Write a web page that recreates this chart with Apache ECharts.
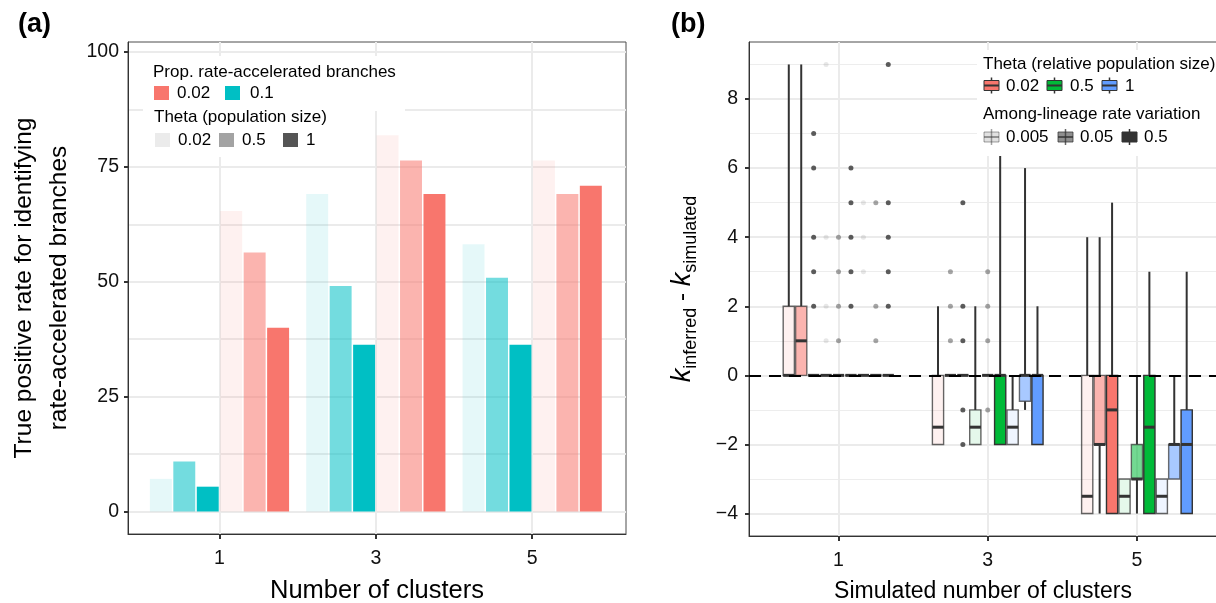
<!DOCTYPE html>
<html>
<head>
<meta charset="utf-8">
<title>Rate-accelerated branches and clusters</title>
<script src="https://cdn.jsdelivr.net/npm/echarts@6/dist/echarts.min.js"></script>
<style>
  html, body { margin: 0; padding: 0; background: #fff; }
  #chart { width: 1216px; height: 603px; }
</style>
</head>
<body>
<div id="chart"></div>
<script>
// ---- data, panel (a): true positive rate (%) per cluster, theta order 0.02 / 0.5 / 1
const clusters = [1, 3, 5]
const tprProp01 = [[7.1, 10.9, 5.4], [69.1, 49.1, 36.3], [58.2, 50.9, 36.3]]
const tprProp002 = [[65.4, 56.4, 40.0], [81.9, 76.4, 69.1], [76.4, 69.1, 70.9]]
const ticksA = [0, 25, 50, 75, 100]
const gridA = [0, 12.5, 25, 37.5, 50, 62.5, 75, 87.5, 100]

// ---- data, panel (b): [min, q1, median, q3, max] for the 9 boxes of each cluster
// order: theta 0.02 (rate 0.005, 0.05, 0.5), theta 0.5 (...), theta 1 (...)
const boxK1 = [[0, 0, 0, 2, 9], [0, 0, 1, 2, 9], [0, 0, 0, 0, 0], [0, 0, 0, 0, 0], [0, 0, 0, 0, 0],
  [0, 0, 0, 0, 0], [0, 0, 0, 0, 0], [0, 0, 0, 0, 0], [0, 0, 0, 0, 0]]
const boxK3 = [[-2, -2, -1.5, 0, 2], [0, 0, 0, 0, 0], [0, 0, 0, 0, 0], [-2, -2, -1.5, -1, 2], [0, 0, 0, 0, 0],
  [-2, -2, 0, 0, 7], [-2, -2, -1.5, -1, 0], [-1, -0.75, 0, 0, 6], [-2, -2, 0, 0, 2]]
const boxK5 = [[-4, -4, -3.5, 0, 4], [-4, -2, -2, 0, 4], [-4, -4, -1, 0, 5], [-4, -4, -3.5, -3, -3], [-4, -3, -3, -2, 0],
  [-4, -4, -1.5, 0, 3], [-4, -4, -3.5, -3, -3], [-3, -3, -2, -2, 0], [-4, -4, -2, -1, 3]]
const outK1 = [[], [], [7, 6, 4, 3, 2], [9, 4, 2, 1], [4, 3, 2, 1], [6, 5, 4, 3, 2], [5, 4, 3], [5, 2, 1], [9, 5, 4, 3, 2]]
const outK3 = [[], [3, 2, 1], [5, 2, 1, -1, -2], [], [3, 2, 1, -1], [], [], [], []]
const outK5 = [[], [], [], [], [], [], [], [], []]
const ticksB = [-4, -2, 0, 2, 4, 6, 8]
const minorB = [-3, -1, 1, 3, 5, 7, 9]

const FONT = 'Liberation Sans, Arial, Helvetica, sans-serif'
const propColors = ['#00BFC4', '#F8766D']      // 0.1 (left), 0.02 (right)
const thetaAlpha = [0.1, 0.55, 1]
const thetaColors = ['#F8766D', '#00BA38', '#619CFF']
const rateAlpha = [0.1, 0.55, 1]
const dotAlpha = [0.15, 0.55, 1]
const boxStroke = ['rgba(51,51,51,0.75)', 'rgba(51,51,51,0.7)', '#333']

function rgba(hex, a) {
  const n = parseInt(hex.slice(1), 16)
  return 'rgba(' + (n >> 16) + ',' + ((n >> 8) & 255) + ',' + (n & 255) + ',' + a + ')'
}
function minus(v) { return v < 0 ? '\u2212' + (-v) : String(v) }

// bars: [cluster, slot, value, propIdx, thetaIdx]
const barData = []
clusters.forEach((c, ci) => {
  [tprProp01, tprProp002].forEach((arr, pi) => {
    arr[ci].forEach((v, ti) => barData.push([c, pi * 3 + ti, v, pi, ti]))
  })
})

// boxes: [cluster, slot, min, q1, med, q3, max]
const boxData = []
const boxStats = [boxK1, boxK3, boxK5]
clusters.forEach((c, ci) => boxStats[ci].forEach((s, k) => boxData.push([c, k].concat(s))))

const slotX = (c, k) => c - 0.75 + (k + 0.5) / 6
const outData = []
const outLists = [outK1, outK3, outK5]
clusters.forEach((c, ci) => outLists[ci].forEach((list, k) => list.forEach(v => {
  outData.push({ value: [slotX(c, k), v], itemStyle: { color: rgba('#333333', dotAlpha[k % 3]) } })
})))

function renderBar(params, api) {
  const c = api.value(0), slot = api.value(1), v = api.value(2)
  const left = c - 0.9 + 0.3 * slot
  const p0 = api.coord([left, v])
  const p1 = api.coord([left + 0.3, 0])
  const pi = api.value(3), ti = api.value(4)
  return {
    type: 'rect',
    shape: { x: p0[0] + 0.75, y: p0[1], width: p1[0] - p0[0] - 1.5, height: p1[1] - p0[1] },
    style: { fill: rgba(propColors[pi], thetaAlpha[ti]) }
  }
}

function renderBox(params, api) {
  const c = api.value(0), k = api.value(1)
  const xc = slotX(c, k)
  const half = api.size([1 / 6, 0])[0] * 0.45
  const px = api.coord([xc, 0])[0]
  const y = i => api.coord([xc, api.value(i)])[1]
  const yMin = y(2), yQ1 = y(3), yMed = y(4), yQ3 = y(5), yMax = y(6)
  const theta = Math.floor(k / 3), rate = k % 3
  const ws = { stroke: '#333', lineWidth: 2 }
  return {
    type: 'group',
    children: [
      { type: 'line', shape: { x1: px, y1: yMax, x2: px, y2: yQ3 }, style: ws },
      { type: 'line', shape: { x1: px, y1: yQ1, x2: px, y2: yMin }, style: ws },
      {
        type: 'rect',
        shape: { x: px - half, y: yQ3, width: 2 * half, height: yQ1 - yQ3 },
        style: { fill: rgba(thetaColors[theta], rateAlpha[rate]), stroke: boxStroke[rate], lineWidth: 1.4 }
      },
      { type: 'line', shape: { x1: px - half, y1: yMed, x2: px + half, y2: yMed }, style: { stroke: '#333', lineWidth: 3 } }
    ]
  }
}

// ---- legends (graphic)
const G = []
function txt(x, y, s, size, extra) {
  G.push({ type: 'text', x: x, y: y, z: 101, silent: true,
    style: Object.assign({ text: s, fontSize: size || 17, fontFamily: FONT, fill: '#000', verticalAlign: 'middle' }, extra || {}) })
}
function rect(x, y, w, h, fill, stroke, lw) {
  G.push({ type: 'rect', z: 100, silent: true, shape: { x: x, y: y, width: w, height: h },
    style: { fill: fill, stroke: stroke || null, lineWidth: lw || 0 } })
}
function line(x1, y1, x2, y2, stroke, lw) {
  G.push({ type: 'line', z: 102, silent: true, shape: { x1: x1, y1: y1, x2: x2, y2: y2 }, style: { stroke: stroke, lineWidth: lw } })
}
function boxKey(x, cy, fill, stroke) {
  line(x + 7.5, cy - 8, x + 7.5, cy + 8, stroke, 1.5)
  G.push({ type: 'rect', z: 102, silent: true, shape: { x: x, y: cy - 5, width: 15, height: 10 },
    style: { fill: fill, stroke: stroke, lineWidth: 1 } })
  line(x, cy, x + 15, cy, stroke, 2)
}

// panel labels
txt(18, 25, '(a)', 27, { fontWeight: 'bold' })
txt(671, 25, '(b)', 27, { fontWeight: 'bold' })

// legend (a): two stacked legend boxes
rect(143, 56, 262, 55, '#fff')
rect(143, 111, 196, 46, '#fff')
txt(153, 72, 'Prop. rate-accelerated branches')
rect(154, 86, 15, 14, propColors[1]); txt(177, 93, '0.02')
rect(225, 86, 15, 14, propColors[0]); txt(250, 93, '0.1')
txt(154, 117, 'Theta (population size)')
rect(155, 133, 15, 14, '#EBEBEB'); txt(178, 140, '0.02')
rect(219, 133, 15, 14, '#A3A3A3'); txt(242, 140, '0.5')
rect(283, 133, 15, 14, '#555555'); txt(306, 140, '1')

// legend (b)
rect(977, 50, 245, 106, '#fff')
txt(983, 64, 'Theta (relative population size)')
boxKey(984, 85.5, thetaColors[0], '#333'); txt(1006, 86, '0.02')
boxKey(1047, 85.5, thetaColors[1], '#333'); txt(1070, 86, '0.5')
boxKey(1102, 85.5, thetaColors[2], '#333'); txt(1125, 86, '1')
txt(983, 114, 'Among-lineage rate variation')
boxKey(984, 137, rgba('#333333', 0.15), 'rgba(51,51,51,0.45)'); txt(1006, 137.5, '0.005')
boxKey(1058, 137, rgba('#333333', 0.55), 'rgba(51,51,51,0.75)'); txt(1080, 137.5, '0.05')
boxKey(1122, 137, '#333', '#333'); txt(1144, 137.5, '0.5')

const axisLine = { show: true, onZero: false, lineStyle: { color: '#333', width: 1 } }
const tickStyle = { color: '#333', width: 2 }
const labelStyle = { color: '#111', fontSize: 19.5, fontFamily: FONT }
const gridLine = { show: true, lineStyle: { color: '#EBEBEB', width: 2 } }

const chart = echarts.init(document.getElementById('chart'))
const option = {
  animation: false,
  textStyle: { fontFamily: FONT },
  grid: [
    { left: 128, right: 590, top: 42, bottom: 69, show: true, borderColor: '#4d4d4d', borderWidth: 1,
      containLabel: false, outerBoundsMode: 'none' },
    { left: 749, right: -1, top: 42, bottom: 67, show: true, borderColor: '#4d4d4d', borderWidth: 1,
      containLabel: false, outerBoundsMode: 'none' }
  ],
  xAxis: [
    {
      gridIndex: 0, type: 'value', min: -0.17, max: 6.2,
      axisLine: axisLine,
      axisTick: { show: true, length: 5, lineStyle: tickStyle, customValues: clusters },
      axisLabel: Object.assign({ customValues: clusters, margin: 15 }, labelStyle),
      splitLine: gridLine,
      name: 'Number of clusters', nameLocation: 'middle', nameGap: 44,
      nameTextStyle: { color: '#000', fontSize: 25.5, fontFamily: FONT }
    },
    {
      gridIndex: 1, type: 'value', min: -0.2, max: 6.073,
      axisLine: axisLine,
      axisTick: { show: true, length: 5, lineStyle: tickStyle, customValues: clusters },
      axisLabel: Object.assign({ customValues: clusters, margin: 15 }, labelStyle),
      splitLine: gridLine,
      name: 'Simulated number of clusters', nameLocation: 'middle', nameGap: 44,
      nameTextStyle: { color: '#000', fontSize: 23, fontFamily: FONT }
    }
  ],
  yAxis: [
    {
      gridIndex: 0, type: 'value', min: -4.9, max: 102.2, position: 'left',
      axisLine: axisLine,
      axisTick: { show: true, length: 4, lineStyle: tickStyle, customValues: ticksA },
      axisLabel: Object.assign({ customValues: ticksA, margin: 9 }, labelStyle),
      splitLine: { show: false },
      name: 'True positive rate for identifying\nrate-accelerated branches',
      nameLocation: 'middle', nameGap: 51,
      nameTextStyle: { color: '#000', fontSize: 24.5, fontFamily: FONT, lineHeight: 35, align: 'center' }
    },
    {
      gridIndex: 0, type: 'value', min: -4.9, max: 102.2, position: 'left',
      axisLine: { show: false }, axisLabel: { show: false },
      axisTick: { show: false, customValues: gridA },
      splitLine: gridLine
    },
    {
      gridIndex: 1, type: 'value', min: -4.65, max: 9.65, position: 'left',
      axisLine: axisLine,
      axisTick: { show: true, length: 4, lineStyle: tickStyle, customValues: ticksB },
      axisLabel: Object.assign({ customValues: ticksB, margin: 11, formatter: minus }, labelStyle),
      splitLine: gridLine,
      name: '{k|k}{s|inferred}{m| - }{k|k}{s|simulated}',
      nameLocation: 'middle', nameGap: 49,
      nameTextStyle: {
        color: '#000', fontFamily: FONT,
        rich: {
          k: { fontSize: 27, fontStyle: 'italic', lineHeight: 36, fontFamily: FONT, color: '#000' },
          s: { fontSize: 18, lineHeight: 17, verticalAlign: 'bottom', fontFamily: FONT, color: '#000' },
          m: { fontSize: 24, lineHeight: 36, fontFamily: FONT, color: '#000' }
        }
      }
    },
    {
      gridIndex: 1, type: 'value', min: -4.65, max: 9.65, position: 'left',
      axisLine: { show: false }, axisLabel: { show: false },
      axisTick: { show: false, customValues: minorB },
      splitLine: { show: true, lineStyle: { color: '#EDEDED', width: 1 } }
    }
  ],
  series: [
    {
      type: 'custom', name: 'bars', xAxisIndex: 0, yAxisIndex: 0,
      renderItem: renderBar, data: barData, silent: true, z: 2
    },
    {
      type: 'custom', name: 'boxes', xAxisIndex: 1, yAxisIndex: 2,
      renderItem: renderBox, data: boxData, silent: true, z: 2
    },
    {
      type: 'scatter', name: 'outliers', xAxisIndex: 1, yAxisIndex: 2,
      symbolSize: 5, data: outData, silent: true, z: 3,
      markLine: {
        silent: true, symbol: 'none', label: { show: false },
        lineStyle: { color: '#000', type: [12, 8], width: 2 },
        data: [{ yAxis: 0 }]
      }
    }
  ],
  graphic: { elements: G }
}
option && chart.setOption(option)
window.onresize = () => { chart.resize() }
</script>
</body>
</html>
